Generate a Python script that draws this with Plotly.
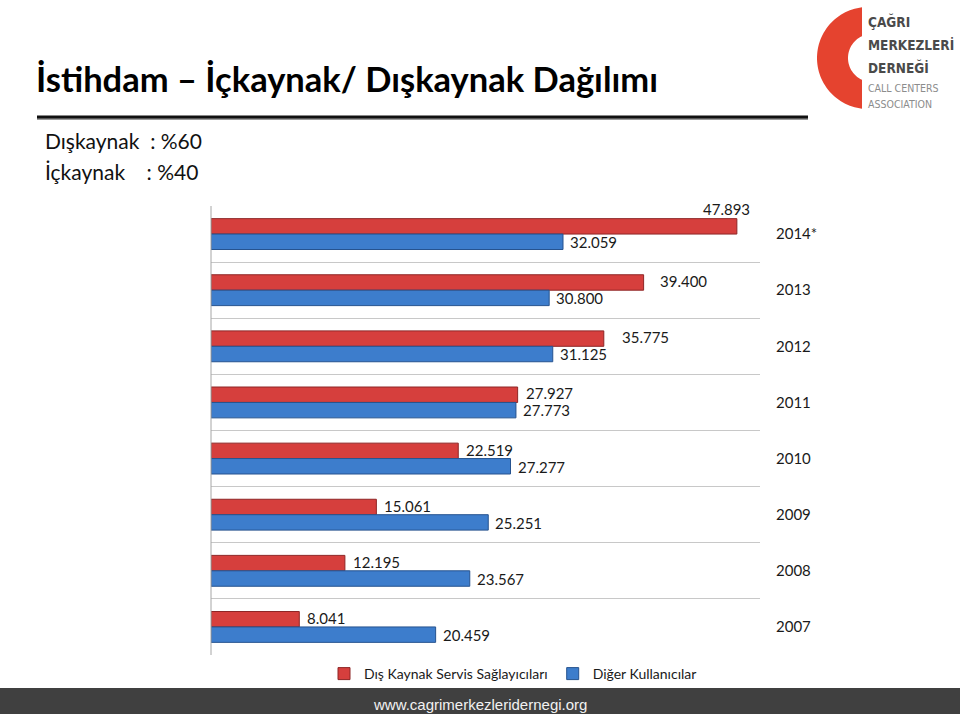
import numpy as np
import plotly.graph_objects as go

# ---- data ----
years = ["2014*", "2013", "2012", "2011", "2010", "2009", "2008", "2007"]
outsource = [47893, 39400, 35775, 27927, 22519, 15061, 12195, 8041]
other_users = [32059, 30800, 31125, 27773, 27277, 25251, 23567, 20459]
series_names = ["Dış Kaynak Servis Sağlayıcıları", "Diğer Kullanıcılar"]
title_text = "İstihdam – İçkaynak/ Dışkaynak Dağılımı"
sub_lines = ["Dışkaynak  : %60", "İçkaynak    : %40"]
footer_text = "www.cagrimerkezleridernegi.org"

W, H = 960, 714
L, R, T, B = 211, 760, 206, 655


def px(x):
    return (x - L) / (R - L)


def py(y):
    return (B - y) / (B - T)


def fmt(v):
    return f"{v:,}".replace(",", ".")


RED = "#d63f3d"
RED_LINE = "#8e2626"
BLUE = "#3d7dcc"
BLUE_LINE = "#26538f"
LABEL_FONT = dict(family="Lato, Open Sans, sans-serif", size=15, color="#1a1a1a")

fig = go.Figure()
fig.add_trace(go.Bar(
    y=years, x=outsource, orientation="h", name=series_names[0],
    marker=dict(color=RED, line=dict(color=RED_LINE, width=1)),
    cliponaxis=False, hoverinfo="x+y",
))
fig.add_trace(go.Bar(
    y=years, x=other_users, orientation="h", name=series_names[1],
    marker=dict(color=BLUE, line=dict(color=BLUE_LINE, width=1)),
    cliponaxis=False, hoverinfo="x+y",
))

annotations = []
# data labels (category index used as y position on the category axis)
red_extra_x = {"2013": 14, "2012": 16}
for i, (yr, v) in enumerate(zip(years, outsource)):
    if i == 0:
        annotations.append(dict(
            x=v, y=i, xref="x", yref="y", text=fmt(v), showarrow=False,
            xanchor="center", yanchor="middle", xshift=-10, yshift=25, font=LABEL_FONT))
    else:
        annotations.append(dict(
            x=v, y=i, xref="x", yref="y", text=fmt(v), showarrow=False,
            xanchor="left", yanchor="middle", xshift=red_extra_x.get(yr, 6), yshift=9,
            font=LABEL_FONT))
for i, v in enumerate(other_users):
    annotations.append(dict(
        x=v, y=i, xref="x", yref="y", text=fmt(v), showarrow=False,
        xanchor="left", yanchor="middle", xshift=5, yshift=-8, font=LABEL_FONT))

# subtitle lines
for i, s in enumerate(sub_lines):
    annotations.append(dict(
        x=px(43), y=py(141 + 30 * i), xref="paper", yref="paper",
        text=s, showarrow=False, xanchor="left", yanchor="middle",
        font=dict(family="Lato, sans-serif", size=21, color="#111111"),
    ))
# logo texts
logo_bold = ["ÇAĞRI", "MERKEZLERİ", "DERNEĞİ"]
for i, s in enumerate(logo_bold):
    annotations.append(dict(
        x=px(866), y=py(22 + 23 * i), xref="paper", yref="paper",
        text=f"<b>{s}</b>", showarrow=False, xanchor="left", yanchor="middle",
        font=dict(family="DejaVu Sans Condensed, Liberation Sans Narrow, sans-serif",
                  size=13.5, color="#4a4a4a"),
    ))
logo_light = ["CALL CENTERS", "ASSOCIATION"]
for i, s in enumerate(logo_light):
    annotations.append(dict(
        x=px(866), y=py(88 + 16 * i), xref="paper", yref="paper",
        text=s, showarrow=False, xanchor="left", yanchor="middle",
        font=dict(family="DejaVu Sans Condensed, Liberation Sans Narrow, sans-serif",
                  size=10.5, color="#8c8c8c"),
    ))
# footer text
annotations.append(dict(
    x=px(480), y=py(704), xref="paper", yref="paper", text=footer_text,
    showarrow=False, xanchor="center", yanchor="middle",
    font=dict(family="Liberation Sans, Arial, sans-serif", size=15, color="#f2f2f2"),
))

shapes = []
# title underline
shapes.append(dict(type="line", xref="paper", yref="paper",
                   x0=px(37), x1=px(808), y0=py(119), y1=py(119),
                   line=dict(color="#9a9a9a", width=2)))
shapes.append(dict(type="line", xref="paper", yref="paper",
                   x0=px(37), x1=px(808), y0=py(117), y1=py(117),
                   line=dict(color="#111111", width=3)))
# left axis line
shapes.append(dict(type="line", xref="paper", yref="paper",
                   x0=0, x1=0, y0=0, y1=1,
                   line=dict(color="#a6a6a6", width=1)))
# footer band
shapes.append(dict(type="rect", xref="paper", yref="paper",
                   x0=px(0), x1=px(960), y0=py(688), y1=py(714),
                   line=dict(width=0), fillcolor="#404040", layer="below"))
# logo "C" ring
cxo, cyo, ro = 868, 58, 51
cxi, cyi, ri = 872, 58, 24
po = np.arccos((862 - cxo) / ro)
pi_ = np.arccos((862 - cxi) / ri)
th_o = np.linspace(po, 2 * np.pi - po, 60)
th_i = np.linspace(2 * np.pi - pi_, pi_, 40)
pts = [(cxo + ro * np.cos(t), cyo - ro * np.sin(t)) for t in th_o]
pts += [(cxi + ri * np.cos(t), cyi - ri * np.sin(t)) for t in th_i]
path = "M " + " L ".join(f"{px(x):.5f},{py(y):.5f}" for x, y in pts) + " Z"
shapes.append(dict(type="path", xref="paper", yref="paper", path=path,
                   fillcolor="#e5432f", line=dict(width=0)))

fig.update_layout(
    width=W, height=H,
    margin=dict(l=L, r=W - R, t=T, b=H - B),
    paper_bgcolor="white", plot_bgcolor="white",
    separators=",.",
    barmode="group", bargap=0.45, bargroupgap=0,
    showlegend=True,
    legend=dict(orientation="h", x=px(513), xanchor="center", y=py(658), yanchor="top",
                bgcolor="rgba(0,0,0,0)",
                font=dict(family="Lato, sans-serif", size=14, color="#1a1a1a"),
                itemwidth=30, tracegroupgap=0),
    title=dict(text=f"<b>{title_text}</b>", xref="container", yref="container",
               x=36 / W, xanchor="left", y=1 - 80 / H, yanchor="middle",
               font=dict(family="Lato, sans-serif", size=34.5, color="#000000")),
    xaxis=dict(range=[0, 50000], showgrid=False, showticklabels=False,
               zeroline=False, showline=False, ticks=""),
    yaxis=dict(type="category", categoryorder="array", categoryarray=years,
               range=[len(years) - 0.5, -0.5], side="right",
               tickson="boundaries", showgrid=True, gridcolor="#c8c8c8", gridwidth=1,
               ticks="", ticklabelstandoff=15, showline=False, zeroline=False,
               tickfont=dict(family="Lato, sans-serif", size=15, color="#1a1a1a")),
    annotations=annotations,
    shapes=shapes,
)

fig.write_html("out.html")
